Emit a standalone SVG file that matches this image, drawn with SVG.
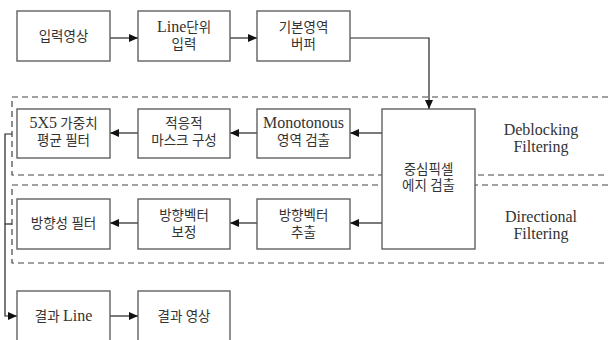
<svg xmlns="http://www.w3.org/2000/svg" width="608" height="340" viewBox="0 0 608 340">
<style>
.box{fill:#fff;stroke:#555;stroke-width:1.3}
.t{font-family:"Liberation Serif","Noto Sans CJK KR",serif;font-size:13.5px;fill:#333;text-anchor:middle}
.e{font-size:16px}
.c{fill:none;stroke:#222;stroke-width:1.2}
.d{fill:none;stroke:#444;stroke-width:1.2;stroke-dasharray:6 4}
</style>
<defs>
<marker id="ah" markerWidth="9" markerHeight="8" refX="9" refY="4" orient="auto" markerUnits="userSpaceOnUse">
<path d="M0,0 L9,4 L0,8 z" fill="#111"/>
</marker>
</defs>
<g id="regions">
<path class="d" d="M608,97 H12 V175 H608"/>
<path class="d" d="M608,185 H12 V263 H608"/>
</g>
<g id="connectors">
<line class="c" x1="110" y1="38" x2="138" y2="38" marker-end="url(#ah)"/>
<line class="c" x1="230" y1="38" x2="257" y2="38" marker-end="url(#ah)"/>
<path class="c" d="M350,38 H429 V109" marker-end="url(#ah)"/>
<line class="c" x1="382" y1="133" x2="350" y2="133" marker-end="url(#ah)"/>
<line class="c" x1="257" y1="133" x2="230" y2="133" marker-end="url(#ah)"/>
<line class="c" x1="138" y1="133" x2="110" y2="133" marker-end="url(#ah)"/>
<line class="c" x1="382" y1="223" x2="350" y2="223" marker-end="url(#ah)"/>
<line class="c" x1="257" y1="223" x2="230" y2="223" marker-end="url(#ah)"/>
<line class="c" x1="138" y1="223" x2="110" y2="223" marker-end="url(#ah)"/>
<path class="c" d="M12,134 H5 V316 H17" marker-end="url(#ah)"/>
<line class="c" x1="5" y1="224" x2="12" y2="224"/>
<line class="c" x1="110" y1="316" x2="138" y2="316" marker-end="url(#ah)"/>
</g>
<g id="n1"><rect class="box" x="17" y="11" width="93" height="50"/><text class="t" x="63.5" y="41">입력영상</text></g>
<g id="n2"><rect class="box" x="138" y="11" width="92" height="50"/><text class="t" x="184" y="32"><tspan class="e">Line</tspan>단위</text><text class="t" x="184" y="49">입력</text></g>
<g id="n3"><rect class="box" x="257" y="11" width="93" height="50"/><text class="t" x="303.5" y="32">기본영역</text><text class="t" x="303.5" y="49">버퍼</text></g>
<g id="n4"><rect class="box" x="17" y="109" width="93" height="49"/><text class="t" x="63.5" y="128"><tspan class="e">5X5</tspan> 가중치</text><text class="t" x="63.5" y="145">평균 필터</text></g>
<g id="n5"><rect class="box" x="138" y="109" width="92" height="49"/><text class="t" x="184" y="128">적응적</text><text class="t" x="184" y="145">마스크 구성</text></g>
<g id="n6"><rect class="box" x="257" y="109" width="93" height="49"/><text class="t" x="303.5" y="128"><tspan class="e">Monotonous</tspan></text><text class="t" x="303.5" y="145">영역 검출</text></g>
<g id="n7"><rect class="box" x="382" y="109" width="93" height="140"/><text class="t" x="428.5" y="174">중심픽셀</text><text class="t" x="428.5" y="190">에지 검출</text></g>
<g id="n8"><rect class="box" x="17" y="199" width="93" height="50"/><text class="t" x="63.5" y="228">방향성 필터</text></g>
<g id="n9"><rect class="box" x="138" y="199" width="92" height="50"/><text class="t" x="184" y="220">방향벡터</text><text class="t" x="184" y="237">보정</text></g>
<g id="n10"><rect class="box" x="257" y="199" width="93" height="50"/><text class="t" x="303.5" y="220">방향벡터</text><text class="t" x="303.5" y="237">추출</text></g>
<g id="n11"><rect class="box" x="17" y="291" width="93" height="55"/><text class="t" x="63.5" y="321">결과 <tspan class="e">Line</tspan></text></g>
<g id="n12"><rect class="box" x="138" y="291" width="92" height="55"/><text class="t" x="184" y="321">결과 영상</text></g>
<g id="labels">
<text class="t e" x="541" y="135">Deblocking</text>
<text class="t e" x="541" y="152">Filtering</text>
<text class="t e" x="541" y="222">Directional</text>
<text class="t e" x="541" y="239">Filtering</text>
</g>
</svg>
